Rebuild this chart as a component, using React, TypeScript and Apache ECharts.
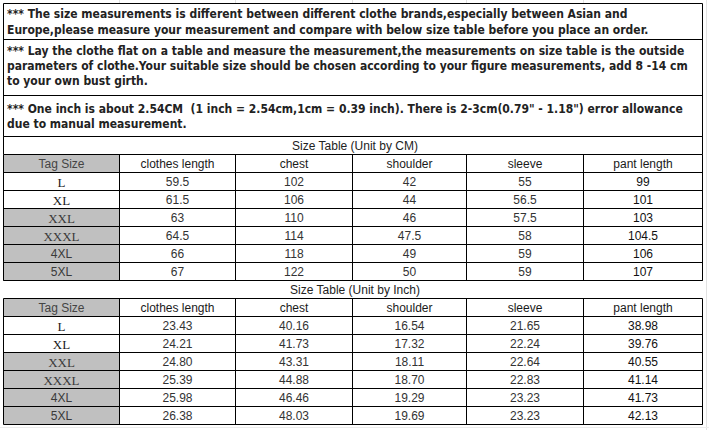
import React, { useEffect, useRef } from "react";
import * as echarts from "echarts";

const noteLines: string[][] = [
  [
    "*** The size measurements is different between different clothe brands,especially between Asian and",
    "Europe,please measure your measurement and compare with below size table before you place an order.",
  ],
  [
    "*** Lay the clothe flat on a table and measure the measurement,the measurements on size table is the outside",
    "parameters of clothe.Your suitable size should be chosen according to your figure measurements, add 8 -14 cm",
    "to your own bust girth.",
  ],
  [
    "*** One inch is about 2.54CM  (1 inch = 2.54cm,1cm = 0.39 inch). There is 2-3cm(0.79\" - 1.18\") error allowance",
    "due to manual measurement.",
  ],
];

const cmTitle = "Size Table (Unit by CM)";
const inchTitle = "Size Table (Unit by Inch)";
const headers = ["Tag Size", "clothes length", "chest", "shoulder", "sleeve", "pant length"];
const tagSizes = ["L", "XL", "XXL", "XXXL", "4XL", "5XL"];
const grayTags = [false, false, true, true, true, true];

const cmClothesLength = [59.5, 61.5, 63, 64.5, 66, 67];
const cmChest = [102, 106, 110, 114, 118, 122];
const cmShoulder = [42, 44, 46, 47.5, 49, 50];
const cmSleeve = [55, 56.5, 57.5, 58, 59, 59];
const cmPantLength = [99, 101, 103, 104.5, 106, 107];

const inClothesLength = [23.43, 24.21, 24.8, 25.39, 25.98, 26.38];
const inChest = [40.16, 41.73, 43.31, 44.88, 46.46, 48.03];
const inShoulder = [16.54, 17.32, 18.11, 18.7, 19.29, 19.69];
const inSleeve = [21.65, 22.24, 22.64, 22.83, 23.23, 23.23];
const inPantLength = [38.98, 39.76, 40.55, 41.14, 41.73, 42.13];

const W = 709;
const H = 430;
const LEFT = 3.5;
const RIGHT = 702.5;
const COLS = [3.5, 119.5, 235.5, 352.5, 466.5, 583.5, 702.5];
const ROW_H = 18;
const NOTE_BORDERS = [3.5, 39.5, 95.5, 136.5];
const NOTE_LINE_Y = [
  [13.5, 29.5],
  [51, 66, 81],
  [108.5, 124],
];
const TABLE_TOPS = [136.5, 280.5];

function line(x1: number, y1: number, x2: number, y2: number, color = "#000") {
  return { type: "line", shape: { x1, y1, x2, y2 }, style: { stroke: color, lineWidth: 1 }, silent: true };
}

function text(t: string, x: number, y: number, opts: any = {}) {
  return {
    type: "text",
    x,
    y,
    silent: true,
    style: {
      text: t,
      fill: opts.fill || "#1a1a1a",
      fontSize: opts.fontSize || 12,
      fontFamily: opts.fontFamily || "Liberation Sans",
      fontWeight: opts.fontWeight || "normal",
      align: opts.align || "center",
      verticalAlign: "middle",
    },
  };
}

function buildTable(top: number, title: string, cols: string[][], sideBordersOnTitle: boolean) {
  const els: any[] = [];
  const headerTop = top + ROW_H;
  const bodyTop = headerTop + ROW_H;
  const bottom = bodyTop + ROW_H * tagSizes.length;
  els.push({ type: "rect", shape: { x: COLS[0], y: headerTop, width: COLS[1] - COLS[0], height: ROW_H }, style: { fill: "#c0c0c0" }, silent: true });
  grayTags.forEach((g, i) => {
    if (g) {
      els.push({
        type: "rect",
        shape: { x: COLS[0], y: bodyTop + i * ROW_H, width: COLS[1] - COLS[0], height: ROW_H },
        style: { fill: "#c0c0c0" },
        silent: true,
      });
    }
  });
  els.push(line(LEFT, top, RIGHT, top));
  for (let r = 0; r <= tagSizes.length + 1; r++) {
    const y = headerTop + r * ROW_H;
    els.push(line(LEFT, y, RIGHT, y));
  }
  if (sideBordersOnTitle) {
    els.push(line(LEFT, top, LEFT, headerTop));
    els.push(line(RIGHT, top, RIGHT, headerTop));
  }
  COLS.forEach((x) => els.push(line(x, headerTop, x, bottom)));
  els.push(text(title, (LEFT + RIGHT) / 2 + 2, top + ROW_H / 2 + 0.5, { fill: "#222" }));
  headers.forEach((h, c) => {
    els.push(text(h, (COLS[c] + COLS[c + 1]) / 2, headerTop + ROW_H / 2 + 0.5, { fill: c === 0 ? "#444" : "#1a1a1a" }));
  });
  tagSizes.forEach((t, r) => {
    const cy = bodyTop + r * ROW_H + ROW_H / 2 + 0.5;
    const serif = r < 4;
    els.push(
      text(t, (COLS[0] + COLS[1]) / 2, cy, {
        fontFamily: serif ? "Liberation Serif" : "Liberation Sans",
        fontSize: serif ? 13 : 12,
        fill: grayTags[r] ? "#3a3a3a" : "#1a1a1a",
      })
    );
    cols.forEach((col, c) => {
      els.push(text(col[r], (COLS[c + 1] + COLS[c + 2]) / 2, cy, { fill: c === 4 ? "#111" : "#333" }));
    });
  });
  return els;
}

export default function App() {
  const ref = useRef<HTMLDivElement>(null);
  useEffect(() => {
    document.body.style.margin = "0";
    if (!ref.current) return;
    const chart = echarts.init(ref.current, null, { renderer: "svg" });
    const els: any[] = [];
    els.push({ type: "rect", shape: { x: 0, y: 0, width: W, height: H }, style: { fill: "#fff" }, silent: true });
    els.push(line(706.5, 0, 706.5, H, "#e2e2e2"));
    COLS.slice(1, 6).forEach((x) => els.push(line(x, 0, x, 3, "#e2e2e2")));
    els.push(line(0, 427.5, W, 427.5, "#ececec"));
    NOTE_BORDERS.forEach((y) => els.push(line(LEFT, y, RIGHT, y)));
    els.push(line(LEFT, NOTE_BORDERS[0], LEFT, NOTE_BORDERS[3]));
    els.push(line(RIGHT, NOTE_BORDERS[0], RIGHT, NOTE_BORDERS[3]));
    noteLines.forEach((lines, b) => {
      lines.forEach((t, i) => {
        els.push(
          text(t, 7, NOTE_LINE_Y[b][i], {
            align: "left",
            fontFamily: "DejaVu Sans Condensed",
            fontWeight: "bold",
            fontSize: 12,
            fill: "#222",
          })
        );
      });
    });
    const fmtCm = (a: number[]) => a.map((v) => String(v));
    const fmtIn = (a: number[]) => a.map((v) => v.toFixed(2));
    els.push(
      ...buildTable(
        TABLE_TOPS[0],
        cmTitle,
        [fmtCm(cmClothesLength), fmtCm(cmChest), fmtCm(cmShoulder), fmtCm(cmSleeve), fmtCm(cmPantLength)],
        true
      )
    );
    els.push(
      ...buildTable(
        TABLE_TOPS[1],
        inchTitle,
        [fmtIn(inClothesLength), fmtIn(inChest), fmtIn(inShoulder), fmtIn(inSleeve), fmtIn(inPantLength)],
        false
      )
    );
    chart.setOption({ animation: false, graphic: { elements: els } });
    return () => chart.dispose();
  }, []);
  return <div ref={ref} style={{ width: W, height: H }} />;
}
